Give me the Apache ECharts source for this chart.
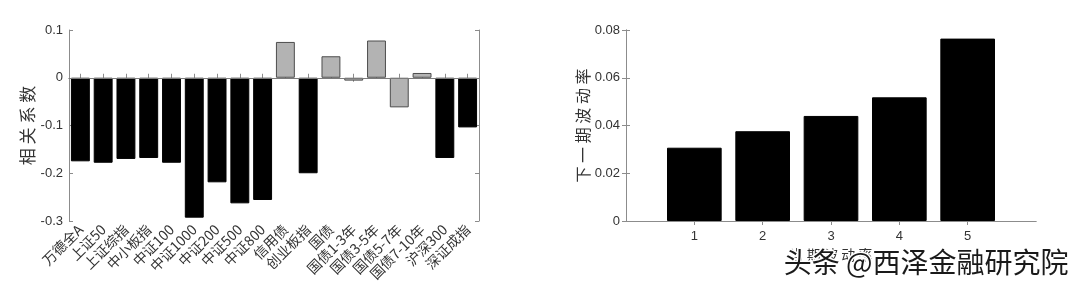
<!DOCTYPE html>
<html>
<head>
<meta charset="utf-8">
<script src="https://cdn.jsdelivr.net/npm/echarts@6/dist/echarts.min.js"></script>
<style>
html,body{margin:0;padding:0;background:#fff;}
#c{width:1080px;height:294px;}
</style>
</head>
<body>
<div id="c"></div>
<script>
// Left chart data
const corrCategories = ['万德全A','上证50','上证综指','中小板指','中证100','中证1000','中证200','中证500','中证800','信用债','创业板指','国债','国债1-3年','国债3-5年','国债5-7年','国债7-10年','沪深300','深证成指'];
const corrValues = [-0.175,-0.178,-0.170,-0.168,-0.178,-0.293,-0.219,-0.263,-0.256,0.075,-0.200,0.045,-0.006,0.078,-0.062,0.010,-0.168,-0.104];
const corrTicks = [-0.3,-0.2,-0.1,0,0.1];

// Right chart data
const volGroups = [1,2,3,4,5];
const volValues = [0.0307,0.0376,0.0440,0.0518,0.0764];
const volTicks = [0,0.02,0.04,0.06,0.08];

const chart = echarts.init(document.getElementById('c'), null, {renderer:'canvas'});
const NUM_FONT = 'Liberation Sans, Arial, sans-serif';
const CJK_FONT = 'Noto Sans CJK SC, sans-serif';
const AX = '#8c8c8c';
const TXT = '#333333';

const grids = [
  {left:69, top:30, width:410, height:191},
  {left:626, top:30, width:410, height:191}
];

function boxLine(){ return {show:true, lineStyle:{color:AX, width:1}}; }
function inTick(){ return {show:true, inside:true, length:4, lineStyle:{color:AX}}; }

const rightBarWidth = grids[1].width * 0.8 / 6;

const option = {
  animation:false,
  backgroundColor:'#ffffff',
  grid: grids,
  xAxis: [
    {
      type:'category', gridIndex:0, data:corrCategories, position:'bottom',
      axisLine:boxLine(), axisTick:Object.assign(inTick(),{alignWithLabel:true}),
      axisLabel:{rotate:45, interval:0, margin:6, fontSize:14, color:TXT, fontFamily:CJK_FONT},
      splitLine:{show:false}
    },
    {
      type:'category', gridIndex:0, data:corrCategories, position:'top',
      axisLine:boxLine(), axisTick:Object.assign(inTick(),{alignWithLabel:true}),
      axisLabel:{show:false}, splitLine:{show:false}
    },
    {
      type:'value', gridIndex:1, min:0, max:6, interval:1, position:'bottom',
      axisLine:boxLine(),
      axisTick:Object.assign(inTick(),{customValues:volGroups}),
      axisLabel:{margin:9, fontSize:13, color:TXT, fontFamily:NUM_FONT,
        formatter:function(v){ return volGroups.indexOf(v) >= 0 ? String(v) : ''; }},
      splitLine:{show:false},
      name:'当 期 波 动 率', nameLocation:'middle', nameGap:27,
      nameTextStyle:{fontSize:14, color:TXT, fontFamily:CJK_FONT}
    },
    {
      type:'value', gridIndex:1, min:0, max:6, interval:1, position:'top',
      axisLine:boxLine(), axisTick:Object.assign(inTick(),{customValues:volGroups}),
      axisLabel:{show:false}, splitLine:{show:false}
    }
  ],
  yAxis: [
    {
      type:'value', gridIndex:0, min:corrTicks[0], max:corrTicks[corrTicks.length-1], interval:0.1,
      position:'left', axisLine:boxLine(), axisTick:inTick(),
      axisLabel:{margin:6, fontSize:13, color:TXT, fontFamily:NUM_FONT,
        formatter:function(v){ return String(+v.toFixed(1)); }},
      splitLine:{show:false},
      name:'相 关 系 数', nameLocation:'middle', nameGap:33, nameRotate:90,
      nameTextStyle:{fontSize:17, color:TXT, fontFamily:CJK_FONT}
    },
    {
      type:'value', gridIndex:0, min:corrTicks[0], max:corrTicks[corrTicks.length-1], interval:0.1,
      position:'right', axisLine:boxLine(), axisTick:inTick(), axisLabel:{show:false}, splitLine:{show:false}
    },
    {
      type:'value', gridIndex:1, min:volTicks[0], max:volTicks[volTicks.length-1], interval:0.02,
      position:'left', axisLine:boxLine(), axisTick:inTick(),
      axisLabel:{margin:6, fontSize:13, color:TXT, fontFamily:NUM_FONT,
        formatter:function(v){ return v === 0 ? '0' : v.toFixed(2); }},
      splitLine:{show:false},
      name:'下 一 期 波 动 率', nameLocation:'middle', nameGap:35, nameRotate:90,
      nameTextStyle:{fontSize:16, color:TXT, fontFamily:CJK_FONT}
    },
    {
      type:'value', gridIndex:1, min:volTicks[0], max:volTicks[volTicks.length-1], interval:0.02,
      position:'right', axisLine:boxLine(), axisTick:inTick(), axisLabel:{show:false}, splitLine:{show:false}
    }
  ],
  series: [
    {
      type:'bar', xAxisIndex:0, yAxisIndex:0, barCategoryGap:'17%',
      data: corrValues.map(function(v,i){
        const bond = corrCategories[i].indexOf('债') >= 0;
        return {value:v, itemStyle:{color: bond ? '#b3b3b3' : '#000000', borderColor: bond ? '#4d4d4d' : '#000000', borderWidth:1}};
      }),
      markLine:{
        silent:true, symbol:['none','none'], label:{show:false},
        lineStyle:{color:'#7a7a7a', width:1, type:'solid'},
        data:[{yAxis:0}]
      },
      z:2
    },
    {
      type:'bar', xAxisIndex:2, yAxisIndex:2, barWidth:rightBarWidth,
      data: volValues.map(function(v,i){ return [volGroups[i], v]; }),
      itemStyle:{color:'#000000', borderColor:'#000000', borderWidth:1}
    }
  ],
  graphic: [
    {
      type:'text', right:10, top:247, z:100,
      style:{
        text:'头条 @西泽金融研究院', fontSize:28, fontFamily:CJK_FONT, fontWeight:'normal',
        fill:'#1a1a1a', stroke:'#ffffff', lineWidth:3
      }
    }
  ]
};
chart.setOption(option);
</script>
</body>
</html>
